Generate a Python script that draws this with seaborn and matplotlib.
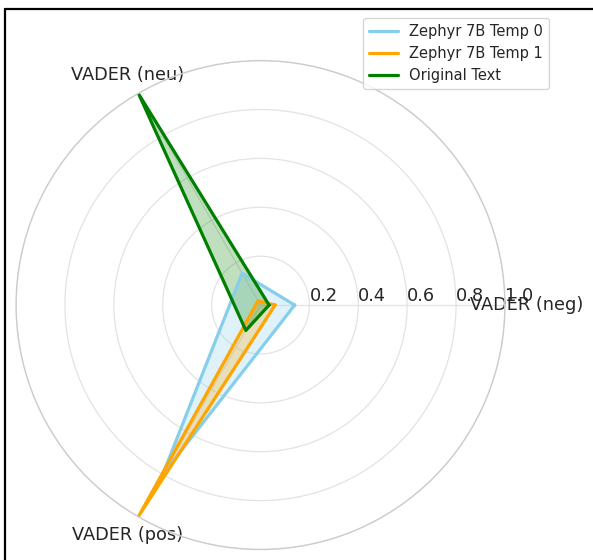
import numpy as np
import pandas as pd
import matplotlib
matplotlib.use("Agg")
import matplotlib.pyplot as plt
from matplotlib.lines import Line2D
import seaborn as sns

categories = ["VADER (neg)", "VADER (neu)", "VADER (pos)"]
series_names = ["Zephyr 7B Temp 0", "Zephyr 7B Temp 1", "Original Text"]
temp0_values = [0.14, 0.15, 0.80]
temp1_values = [0.06, 0.02, 0.995]
original_values = [0.035, 0.995, 0.12]
series_colors = ["skyblue", "orange", "green"]
r_ticks = [0.2, 0.4, 0.6, 0.8, 1.0]
r_tick_labels = ["0.2", "0.4", "0.6", "0.8", "1.0"]

sns.set_style("white")
plt.rcParams["font.family"] = ["DejaVu Sans"]

angles = np.linspace(0, 2 * np.pi, len(categories), endpoint=False)
rows = []
for name, vals in zip(series_names, [temp0_values, temp1_values, original_values]):
    closed_a = list(angles) + [angles[0] + 2 * np.pi]
    closed_v = list(vals) + [vals[0]]
    for i, (a, v) in enumerate(zip(closed_a, closed_v)):
        rows.append({"model": name, "theta": a, "value": v, "order": i})
df = pd.DataFrame(rows)

fig = plt.figure(figsize=(5.93, 5.60), dpi=100)
ax = fig.add_axes([0.027, 0.01875, 0.8246, 0.873], projection="polar")

sns.lineplot(data=df, x="theta", y="value", hue="model", hue_order=series_names,
             palette=series_colors, sort=False, estimator=None, linewidth=2.3,
             legend=False, ax=ax)
for name, color in zip(series_names, series_colors):
    sub = df[df["model"] == name]
    ax.fill(sub["theta"], sub["value"], color=color, alpha=0.25, zorder=1)

ax.set_xlabel("")
ax.set_ylabel("")
ax.set_ylim(0, 1.0)
ax.set_xticks(angles)
ax.set_xticklabels(categories, fontsize=12.8, color="#262626")
ax.set_yticks(r_ticks)
ax.set_yticklabels(r_tick_labels, fontsize=12.8, color="#262626")
ax.set_rlabel_position(0)
ax.grid(True, color="#e3e3e3", linewidth=0.9)
ax.spines["polar"].set_color("#cccccc")
ax.spines["polar"].set_linewidth(1.0)
ax.tick_params(axis="x", pad=5)

handles = [Line2D([0], [0], color=c, lw=2.3) for c in series_colors]
ax.legend(handles, series_names, loc="upper right", bbox_to_anchor=(0.926, 0.968),
          bbox_transform=fig.transFigure, borderaxespad=0, fontsize=10.5,
          frameon=True, edgecolor="#cccccc", fancybox=True)

# screenshot frame lines
fig.add_artist(Line2D([5 / 593, 1.0], [1 - 9 / 560, 1 - 9 / 560], color="black", lw=1.6,
                      transform=fig.transFigure))
fig.add_artist(Line2D([5 / 593, 5 / 593], [0.0, 1 - 9 / 560], color="black", lw=1.6,
                      transform=fig.transFigure))

fig.savefig("out.png", dpi=100)
